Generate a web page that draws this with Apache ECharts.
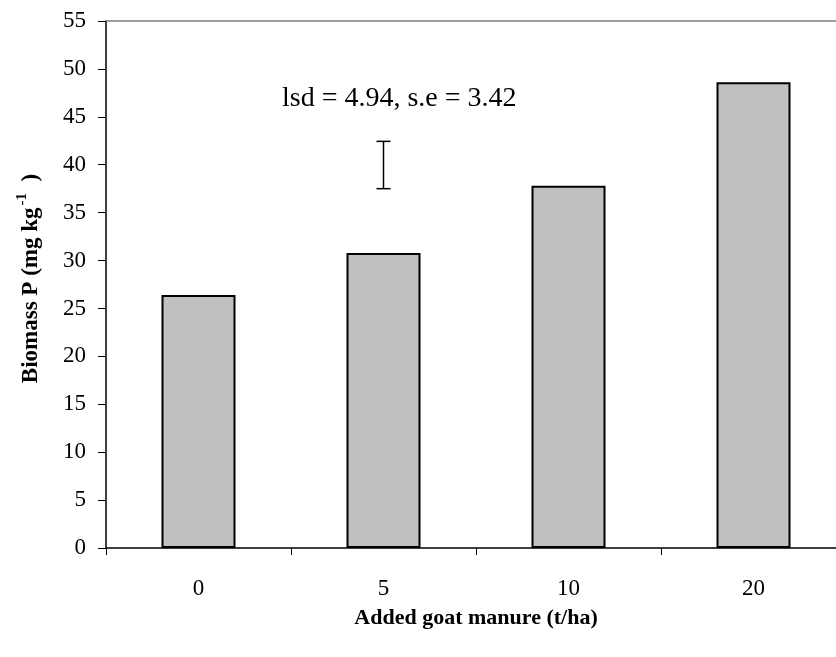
<!DOCTYPE html>
<html>
<head>
<meta charset="utf-8">
<script src="https://cdn.jsdelivr.net/npm/echarts@6/dist/echarts.min.js"></script>
<style>
  html, body { margin: 0; padding: 0; background: #fff; }
  #chart { width: 836px; height: 657px; }
</style>
</head>
<body>
<div id="chart"></div>
<script>
// chart data
let manure = ['0', '5', '10', '20'];
let biomassP = [26.4, 30.8, 37.8, 48.6];
// lsd bar drawn at the "5" category: [category index, low, high]
let lsdBar = [[1, 37.5, 42.44]];
let lsdText = 'lsd = 4.94, s.e = 3.42';

let font = '"Liberation Serif", "Times New Roman", serif';

var dom = document.getElementById('chart');
var myChart = echarts.init(dom);

var option = {
    animation: false,
    backgroundColor: '#fff',
    grid: { left: 106, top: 21, right: -10, bottom: 109, outerBoundsMode: 'none', containLabel: false },
    xAxis: [{
        type: 'category',
        data: manure,
        axisLine: { lineStyle: { color: '#000', width: 1.5 } },
        axisTick: { show: true, length: 7, lineStyle: { color: '#000' } },
        axisLabel: { color: '#000', fontFamily: font, fontSize: 23, margin: 29 },
        name: 'Added goat manure (t/ha)',
        nameLocation: 'middle',
        nameGap: 59,
        nameTextStyle: { color: '#000', fontFamily: font, fontSize: 22, fontWeight: 'bold' }
    }, {
        // grey frame line along the top
        type: 'category',
        data: manure,
        position: 'top',
        axisLine: { lineStyle: { color: '#808080', width: 1.5 } },
        axisTick: { show: false },
        axisLabel: { show: false }
    }],
    yAxis: {
        type: 'value',
        min: 0,
        max: 55,
        interval: 5,
        splitLine: { show: false },
        axisLine: { show: true, lineStyle: { color: '#000', width: 1.5 } },
        axisTick: { show: true, length: 8, lineStyle: { color: '#000' } },
        axisLabel: { color: '#000', fontFamily: font, fontSize: 23, margin: 20 },
        name: '{a|Biomass P (mg kg}{s|-1}{a|  )}',
        nameLocation: 'middle',
        nameRotate: 90,
        nameGap: 58,
        nameTextStyle: {
            color: '#000',
            padding: [0, 0, 0, 12],
            rich: {
                a: { fontFamily: font, fontSize: 23, fontWeight: 'bold', color: '#000' },
                s: { fontFamily: font, fontSize: 15, fontWeight: 'bold', color: '#000', padding: [0, 0, 18, 2] }
            }
        }
    },
    series: [{
        type: 'bar',
        data: biomassP,
        barWidth: '40%',
        itemStyle: { color: '#c0c0c0', borderColor: '#000', borderWidth: 2 }
    }, {
        type: 'custom',
        data: lsdBar,
        renderItem: function (params, api) {
            var top = api.coord([api.value(0), api.value(2)]);
            var bot = api.coord([api.value(0), api.value(1)]);
            var hw = 7;
            var style = { stroke: '#000', lineWidth: 1.5 };
            return {
                type: 'group',
                children: [
                    { type: 'line', shape: { x1: top[0], y1: top[1], x2: bot[0], y2: bot[1] }, style: style },
                    { type: 'line', shape: { x1: top[0] - hw, y1: top[1], x2: top[0] + hw, y2: top[1] }, style: style },
                    { type: 'line', shape: { x1: bot[0] - hw, y1: bot[1], x2: bot[0] + hw, y2: bot[1] }, style: style }
                ]
            };
        }
    }],
    graphic: [{
        type: 'text',
        left: 282,
        top: 85,
        style: { text: lsdText, fill: '#000', font: '28px ' + font }
    }]
};

myChart.setOption(option);
</script>
</body>
</html>
